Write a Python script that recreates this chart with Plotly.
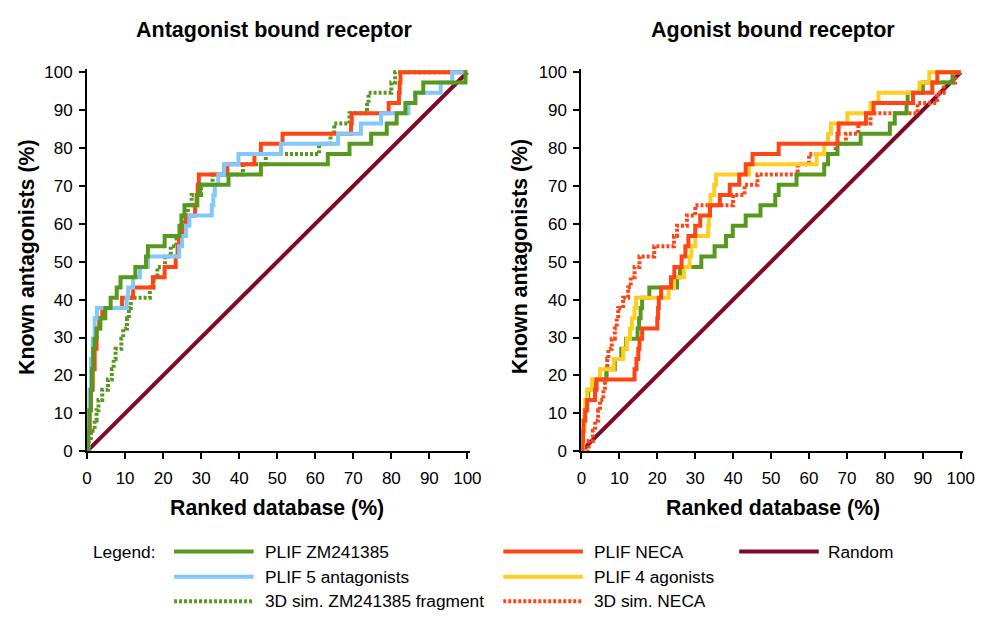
import plotly.graph_objects as go

# ---------------- data ----------------
tick_vals = [0, 10, 20, 30, 40, 50, 60, 70, 80, 90, 100]
tick_text = ["0", "10", "20", "30", "40", "50", "60", "70", "80", "90", "100"]

random_x = [0, 100]
random_y = [0, 100]

# Antagonist bound receptor (left)
ant_zm_x = [0, 0.3, 0.6, 1.0, 1.3, 1.6, 2.0, 2.5, 3.5, 4.8, 6.2, 7.8, 8.8, 12.7, 15.5, 16.0, 20.4, 24.3, 24.8, 25.6,
            29.0, 29.7, 37.2, 45.7, 63.3, 69.0, 74.7, 78.8, 81.4, 83.7, 86.3, 88.4, 99.5, 100]
ant_zm_y = [0, 5.4, 10.8, 16.2, 21.6, 27.0, 29.7, 32.4, 35.1, 37.8, 40.5, 43.2, 45.9, 48.6, 51.4, 54.1, 56.8, 59.5, 62.2, 64.9,
            67.6, 70.3, 73.0, 75.7, 78.4, 81.1, 83.8, 86.5, 89.2, 91.9, 94.6, 97.3, 100, 100]

ant_neca_x = [0, 0.3, 0.7, 1.0, 1.5, 2.0, 2.5, 3.2, 4.0, 9.2, 12.1, 17.3, 20.4, 23.3, 23.8, 24.2, 25.0, 26.0, 28.4, 28.8,
              29.1, 29.4, 36.9, 44.0, 45.7, 51.4, 69.4, 69.6, 79.3, 82.0, 82.2, 82.4, 100]
ant_neca_y = [0, 5.4, 10.8, 16.2, 21.6, 27.0, 32.4, 35.1, 37.8, 40.5, 43.2, 45.9, 48.6, 51.4, 54.1, 56.8, 59.5, 62.2, 64.9, 67.6,
              70.3, 73.0, 75.7, 78.4, 81.1, 83.8, 86.5, 89.2, 91.9, 94.6, 97.3, 100, 100]

ant_5ant_x = [0, 0.3, 0.6, 1.0, 1.5, 2.0, 2.6, 10.4, 10.8, 12.1, 13.9, 16.0, 24.2, 25.0, 26.0, 26.9, 32.8, 33.2, 33.6, 34.5,
              36.0, 39.8, 51.0, 66.0, 72.0, 77.3, 84.5, 86.3, 93.0, 96.0, 100]
ant_5ant_y = [0, 8.1, 16.2, 24.3, 29.7, 35.1, 37.8, 40.5, 43.2, 45.9, 48.6, 51.4, 54.1, 56.8, 59.5, 62.2, 64.9, 67.6, 70.3, 73.0,
              75.7, 78.4, 81.1, 83.8, 86.5, 89.2, 91.9, 94.6, 97.3, 100, 100]

ant_3dzm_x = [0, 0.5, 1.0, 2.0, 2.5, 3.0, 4.0, 5.5, 6.5, 7.0, 7.5, 9.0, 9.5, 10.5, 11.0, 11.5, 16.5, 17.5, 18.5, 20.5,
              22.0, 23.5, 24.5, 25.5, 26.5, 27.5, 30.0, 33.0, 41.0, 47.0, 61.0, 64.0, 65.0, 69.0, 73.6, 74.0, 80.0, 81.0, 100]
ant_3dzm_y = [0, 2.7, 5.4, 8.1, 10.8, 13.5, 16.2, 18.9, 21.6, 24.3, 27.0, 29.7, 32.4, 35.1, 37.8, 40.5, 43.2, 45.9, 48.6, 51.4,
              54.1, 56.8, 59.5, 62.2, 64.9, 67.6, 70.3, 73.0, 75.7, 78.4, 81.1, 83.8, 86.5, 89.2, 91.9, 94.6, 97.3, 100, 100]

# Agonist bound receptor (right)
ago_zm_x = [0, 0.3, 0.6, 1.0, 1.3, 1.8, 3.6, 6.6, 8.8, 10.5, 11.8, 14.8, 15.2, 15.6, 16.0, 17.9, 25.2, 26.0, 31.6, 35.1,
            38.1, 39.9, 43.3, 47.2, 51.1, 52.0, 56.7, 64.0, 65.0, 67.5, 73.6, 81.3, 82.6, 85.7, 86.0, 90.0, 97.8, 100]
ago_zm_y = [0, 5.4, 8.1, 10.8, 13.5, 16.2, 18.9, 21.6, 24.3, 27.0, 29.7, 32.4, 35.1, 37.8, 40.5, 43.2, 45.9, 48.6, 51.4, 54.1,
            56.8, 59.5, 62.2, 64.9, 67.6, 70.3, 73.0, 75.7, 78.4, 81.1, 83.8, 86.5, 89.2, 91.9, 94.6, 97.3, 100, 100]

ago_neca_x = [0, 0.3, 0.4, 0.5, 1.0, 1.5, 3.6, 4.0, 14.0, 14.5, 15.0, 15.3, 16.0, 20.0, 20.2, 20.4, 21.0, 23.6, 24.5, 26.4,
              27.4, 28.2, 30.0, 31.3, 33.9, 36.5, 39.1, 41.6, 43.3, 45.1, 52.0, 67.5, 67.8, 75.0, 77.0, 87.4, 92.5, 93.8, 100]
ago_neca_y = [0, 2.7, 5.4, 8.1, 10.8, 13.5, 16.2, 18.9, 21.6, 24.3, 27.0, 29.7, 32.4, 35.1, 37.8, 40.5, 43.2, 45.9, 48.6, 51.4,
              54.1, 56.8, 59.5, 62.2, 64.9, 67.6, 70.3, 73.0, 75.7, 78.4, 81.1, 83.8, 86.5, 89.2, 91.9, 94.6, 97.3, 100, 100]

ago_4ago_x = [0, 0.5, 0.8, 1.0, 1.5, 2.8, 4.9, 8.5, 11.0, 12.0, 12.8, 13.3, 14.0, 14.4, 23.0, 24.4, 27.0, 28.5, 29.0, 30.0,
              33.4, 33.6, 33.8, 34.0, 35.0, 35.5, 44.2, 62.0, 64.0, 65.0, 65.8, 70.1, 76.2, 78.3, 89.1, 91.7, 100]
ago_4ago_y = [0, 5.4, 10.8, 13.5, 16.2, 18.9, 21.6, 24.3, 27.0, 29.7, 32.4, 35.1, 37.8, 40.5, 43.2, 45.9, 48.6, 51.4, 54.1, 56.8,
              59.5, 62.2, 64.9, 67.6, 70.3, 73.0, 75.7, 78.4, 81.1, 83.8, 86.5, 89.2, 91.9, 94.6, 97.3, 100, 100]

ago_3dneca_x = [0, 1.9, 3.0, 3.6, 4.4, 4.9, 5.8, 6.2, 6.6, 6.8, 7.1, 8.0, 8.8, 9.3, 9.7, 11.0, 12.3, 13.0, 14.0, 15.3,
                19.2, 24.4, 25.2, 27.8, 30.0, 40.0, 43.0, 46.4, 57.0, 60.0, 67.0, 69.7, 73.0, 76.2, 88.6, 93.8, 95.5, 98.5, 100]
ago_3dneca_y = [0, 2.7, 5.4, 8.1, 10.8, 13.5, 16.2, 18.9, 21.6, 24.3, 27.0, 29.7, 32.4, 35.1, 37.8, 40.5, 43.2, 45.9, 48.6, 51.4,
                54.1, 56.8, 59.5, 62.2, 64.9, 67.6, 70.3, 73.0, 75.7, 78.4, 81.1, 83.8, 86.5, 89.2, 91.9, 94.6, 97.3, 100, 100]

# ---------------- styles ----------------
GREEN = "#56991E"
RED = "#FF4515"
BLUE = "#83C8FA"
YELLOW = "#FFCE22"
MAROON = "#7E0A25"
DOT = "3px,2px"
FONT = "Liberation Sans, Arial, sans-serif"

fig = go.Figure()


def add(x, y, color, dash, axis, name):
    fig.add_trace(go.Scatter(
        x=x, y=y, mode="lines", name=name, showlegend=False,
        line=dict(color=color, width=4, dash=dash, shape="hv" if name != "Random" else "linear"),
        xaxis="x" if axis == 1 else "x2", yaxis="y" if axis == 1 else "y2",
        hoverinfo="skip"))


# left panel
add(random_x, random_y, MAROON, "solid", 1, "Random")
add(ant_3dzm_x, ant_3dzm_y, GREEN, DOT, 1, "3D sim. ZM241385 fragment")
add(ant_neca_x, ant_neca_y, RED, "solid", 1, "PLIF NECA")
add(ant_5ant_x, ant_5ant_y, BLUE, "solid", 1, "PLIF 5 antagonists")
add(ant_zm_x, ant_zm_y, GREEN, "solid", 1, "PLIF ZM241385")
# right panel
add(random_x, random_y, MAROON, "solid", 2, "Random")
add(ago_3dneca_x, ago_3dneca_y, RED, DOT, 2, "3D sim. NECA")
add(ago_zm_x, ago_zm_y, GREEN, "solid", 2, "PLIF ZM241385")
add(ago_4ago_x, ago_4ago_y, YELLOW, "solid", 2, "PLIF 4 agonists")
add(ago_neca_x, ago_neca_y, RED, "solid", 2, "PLIF NECA")

W, H = 990, 619
x_range = [0, 100.6]
y_range = [0, 100.8]


def px(xp):
    return xp / W


def py(yp):
    return 1 - yp / H


axis_common = dict(
    tickmode="array", tickvals=tick_vals, ticktext=tick_text,
    showline=True, linewidth=2, linecolor="black",
    ticks="outside", ticklen=6, tickwidth=2, tickcolor="black",
    showgrid=False, zeroline=False,
    tickfont=dict(family=FONT, size=17, color="black"),
)

ydom = [py(457), py(64.9)]
fig.update_layout(
    width=W, height=H,
    margin=dict(l=0, r=0, t=0, b=0),
    paper_bgcolor="white", plot_bgcolor="white",
    xaxis=dict(domain=[px(83.5), px(472.8)], range=x_range, anchor="y", ticklabelstandoff=4, **axis_common),
    yaxis=dict(domain=ydom, range=y_range, anchor="x", ticklabelstandoff=3, **axis_common),
    xaxis2=dict(domain=[px(586.5), px(974.8)], range=x_range, anchor="y2", ticklabelstandoff=4, **axis_common),
    yaxis2=dict(domain=ydom, range=y_range, anchor="x2", ticklabelstandoff=3, **axis_common),
)

ann = []


def text(x_px, y_px, s, size, bold=False, angle=0, xanchor="center"):
    ann.append(dict(
        x=px(x_px), y=py(y_px), xref="paper", yref="paper",
        text=("<b>%s</b>" % s) if bold else s, showarrow=False,
        textangle=angle, xanchor=xanchor, yanchor="middle",
        font=dict(family=FONT, size=size, color="black")))


# panel titles and axis titles
text(274, 25, "Antagonist bound receptor", 21.5, bold=True)
text(781, 25, "Agonist bound receptor", 21.5, bold=True)
text(277, 515, "Ranked database (%)", 21.3, bold=True)
text(781, 515, "Ranked database (%)", 21.3, bold=True)
text(23, 258, "Known antagonists (%)", 21.3, bold=True, angle=-90)
text(524, 258, "Known antagonists (%)", 21.3, bold=True, angle=-90)

# manual legend
legend_names = ["PLIF ZM241385", "PLIF NECA", "Random", "PLIF 5 antagonists", "PLIF 4 agonists",
                "3D sim. ZM241385 fragment", "3D sim. NECA"]
legend_colors = [GREEN, RED, MAROON, BLUE, YELLOW, GREEN, RED]
legend_dash = ["solid", "solid", "solid", "solid", "solid", DOT, DOT]
legend_col = [0, 1, 2, 0, 1, 0, 1]
legend_row = [0, 0, 0, 1, 1, 2, 2]
col_line = [(172, 253), (507, 588), (747, 828)]
col_text = [263, 597, 835]
row_y = [560, 586, 611]

text(88, 560, "Legend:", 17.3, xanchor="left")
shapes = []
for name, c, d, ci, ri in zip(legend_names, legend_colors, legend_dash, legend_col, legend_row):
    x0, x1 = col_line[ci]
    yy = py(row_y[ri])
    shapes.append(dict(type="line", xref="paper", yref="paper", x0=px(x0), x1=px(x1), y0=yy, y1=yy,
                       line=dict(color=c, width=4, dash=d)))
    text(col_text[ci], row_y[ri], name, 17.3, xanchor="left")

fig.update_layout(annotations=ann, shapes=shapes)

# remove the default page margin so the 990x619 figure fills the window exactly
page_fix = ("document.documentElement.style.margin='0';document.documentElement.style.padding='0';"
            "document.documentElement.style.overflow='hidden';"
            "document.body.style.margin='0';document.body.style.padding='0';document.body.style.overflow='hidden';")
fig.write_html("out.html", post_script=page_fix, config={"displayModeBar": False})
